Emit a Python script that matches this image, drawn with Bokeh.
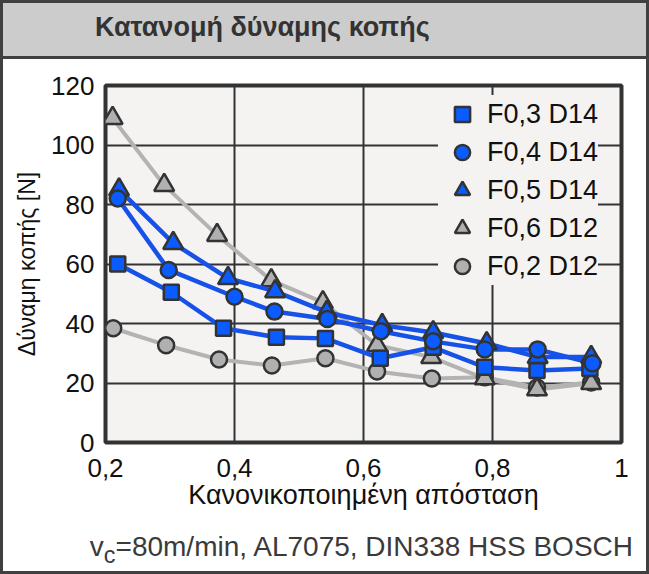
from bokeh.plotting import figure
from bokeh.layouts import column, row
from bokeh.models import Legend, LegendItem, FixedTicker, Range1d, Div
from bokeh.embed import file_html
from bokeh.resources import INLINE

# ---------------- data ----------------
x_ticks = [0.2, 0.4, 0.6, 0.8, 1.0]
x_tick_labels = ["0,2", "0,4", "0,6", "0,8", "1"]
y_ticks = [0, 20, 40, 60, 80, 100, 120]

series_names = ["F0,3 D14", "F0,4 D14", "F0,5 D14", "F0,6 D12", "F0,2 D12"]

f03_x = [0.219, 0.302, 0.383, 0.465, 0.541, 0.626, 0.708, 0.788, 0.869, 0.951]
f03_y = [60.0, 50.5, 38.4, 35.4, 35.0, 28.3, 32.0, 25.3, 24.2, 24.9]

f04_x = [0.219, 0.298, 0.400, 0.462, 0.544, 0.627, 0.708, 0.788, 0.870, 0.955]
f04_y = [82.0, 58.0, 49.0, 44.0, 41.5, 37.4, 34.0, 31.3, 31.3, 26.6]

f05_x = [0.221, 0.305, 0.390, 0.463, 0.543, 0.629, 0.708, 0.791, 0.870, 0.953]
f05_y = [85.0, 67.0, 55.2, 50.8, 43.8, 39.4, 37.0, 33.3, 28.7, 28.7]

f06_x = [0.211, 0.291, 0.373, 0.457, 0.537, 0.621, 0.705, 0.788, 0.869, 0.953]
f06_y = [109.0, 86.5, 69.7, 54.5, 47.1, 32.7, 28.7, 21.5, 17.8, 19.9]

f02_x = [0.212, 0.294, 0.376, 0.458, 0.541, 0.621, 0.706, 0.788, 0.869, 0.953]
f02_y = [38.4, 32.7, 27.9, 25.9, 28.3, 23.9, 21.5, 21.9, 18.5, 20.2]

title_text = "Κατανομή δύναμης κοπής"
x_label = "Κανονικοποιημένη απόσταση"
y_label = "Δύναμη κοπής [N]"
note_html = "v<sub>c</sub>=80m/min, AL7075, DIN338 HSS BOSCH"

# ---------------- styling / layout ----------------
W = 649            # total width
BW = 3             # outer border width
TITLE_H = 59
MID_H = 463
FOOT_H = 52
PW = W - 2 * BW    # main figure width
FL, FR = 102, 618  # plot frame left/right inside main figure
FRAME_H = 357
TOP_GAP = 26

FONT = "Liberation Sans"
BLUE_LINE = "#1652e8"
BLUE_FILL = "#0a5cff"
GRAY_LINE = "#b3b3b3"
GRAY_FILL = "#b0b0b0"
EDGE = "#333333"
BORDER = "#404040"
PLOT_BG = "#f4f3f2"

title_div = Div(text=title_text, width=W, height=TITLE_H, margin=0, styles={
    "box-sizing": "border-box", "background-color": "#cccccc",
    "border": f"{BW}px solid {BORDER}", "padding-left": "92px",
    "font-family": FONT, "font-weight": "bold", "font-size": "27px",
    "line-height": "48px", "color": "#333333", "overflow": "hidden"})

foot_div = Div(text=note_html, width=W, height=FOOT_H, margin=0, styles={
    "box-sizing": "border-box", "background-color": "white",
    "border-left": f"{BW}px solid {BORDER}", "border-right": f"{BW}px solid {BORDER}",
    "border-bottom": f"{BW}px solid {BORDER}",
    "padding-right": "13px", "padding-top": "10px", "text-align": "right",
    "font-family": FONT, "font-size": "28px", "line-height": "30px",
    "color": "#3a3a3a", "overflow": "hidden"})


def bar():
    return Div(text="", width=BW, height=MID_H, margin=0,
               styles={"background-color": BORDER, "box-sizing": "border-box"})


# ---- main chart ----
p = figure(frame_width=FR - FL, frame_height=FRAME_H,
           min_border_left=FL, min_border_right=PW - FR,
           min_border_top=TOP_GAP, min_border_bottom=MID_H - FRAME_H - TOP_GAP,
           x_range=Range1d(0.2, 1.0), y_range=Range1d(0, 120),
           output_backend="svg", toolbar_location=None, title=None, margin=0)

p.background_fill_color = PLOT_BG
p.border_fill_color = "white"
p.outline_line_color = EDGE
p.outline_line_width = 4

p.xaxis.ticker = FixedTicker(ticks=x_ticks)
p.yaxis.ticker = FixedTicker(ticks=y_ticks)
p.xaxis.major_label_overrides = dict(zip(x_ticks, x_tick_labels))
for ax in (p.xaxis[0], p.yaxis[0]):
    ax.axis_line_color = None
    ax.major_tick_line_color = None
    ax.minor_tick_line_color = None
    ax.major_label_text_font = FONT
    ax.major_label_text_font_size = "26px"
    ax.major_label_text_color = "#111111"
    ax.axis_label_text_font = FONT
    ax.axis_label_text_font_style = "normal"
    ax.axis_label_text_color = "#111111"
p.xaxis.axis_label = x_label
p.yaxis.axis_label = y_label
p.xaxis.axis_label_text_font_size = "27px"
p.yaxis.axis_label_text_font_size = "23px"
p.xaxis.major_label_standoff = 10
p.yaxis.major_label_standoff = 5
p.xaxis.axis_label_standoff = 0
p.yaxis.axis_label_standoff = 8

p.grid.grid_line_color = EDGE
p.grid.grid_line_width = 2
p.xgrid.ticker = FixedTicker(ticks=x_ticks)
p.ygrid.ticker = FixedTicker(ticks=y_ticks)

# gray series first
p.line(f02_x, f02_y, line_color=GRAY_LINE, line_width=4)
p.line(f06_x, f06_y, line_color=GRAY_LINE, line_width=4)
r02 = p.scatter(f02_x, f02_y, marker="circle", size=16, fill_color=GRAY_FILL,
                line_color=EDGE, line_width=2.5)
r06 = p.scatter(f06_x, f06_y, marker="triangle", size=20, fill_color=GRAY_FILL,
                line_color=EDGE, line_width=2.5)
# blue series
p.line(f03_x, f03_y, line_color=BLUE_LINE, line_width=4.5)
p.line(f04_x, f04_y, line_color=BLUE_LINE, line_width=4.5)
p.line(f05_x, f05_y, line_color=BLUE_LINE, line_width=4.5)
r03 = p.scatter(f03_x, f03_y, marker="square", size=15, fill_color=BLUE_FILL,
                line_color=EDGE, line_width=2.5)
r05 = p.scatter(f05_x, f05_y, marker="triangle", size=20, fill_color=BLUE_FILL,
                line_color=EDGE, line_width=2.5)
r04 = p.scatter(f04_x, f04_y, marker="circle", size=16, fill_color=BLUE_FILL,
                line_color=EDGE, line_width=2.5)

legend = Legend(items=[LegendItem(label=n, renderers=[r]) for n, r in
                       zip(series_names, [r03, r04, r05, r06, r02])],
                location=(333, 157), orientation="vertical",
                background_fill_color=PLOT_BG, background_fill_alpha=1.0,
                border_line_color=None, padding=0, spacing=0, margin=0,
                glyph_width=48, glyph_height=38, label_height=38,
                label_standoff=1, label_text_font=FONT,
                label_text_font_size="27px", label_text_color="#111111")
p.add_layout(legend)

layout = column(title_div, row(bar(), p, bar(), spacing=0, margin=0), foot_div,
                spacing=0, margin=0)

open("out.html", "w").write(file_html(layout, INLINE))
